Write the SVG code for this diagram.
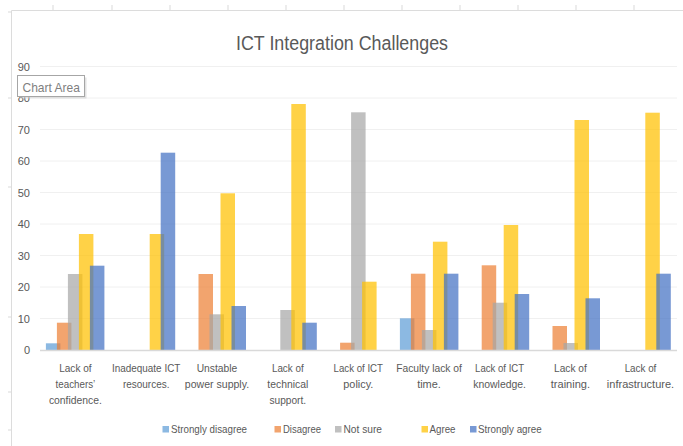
<svg xmlns="http://www.w3.org/2000/svg" width="683" height="446" viewBox="0 0 683 446">
<style>
text{font-family:"Liberation Sans",Arial,sans-serif;fill:#595959}
.yl{font-size:11px;text-anchor:end}
.cl{font-size:11px;text-anchor:middle}
.lg{font-size:11px}
.title{font-size:20px;text-anchor:middle}
.grid{stroke:#f0f0f0;stroke-width:1}
.sheet{stroke:#dcdcdc;stroke-width:1;fill:none}
.tick{stroke:#e6e6e6;stroke-width:1.5}
.sd{fill:#5B9BD5;fill-opacity:0.7}
.d{fill:#ED7D31;fill-opacity:0.7}
.ns{fill:#A5A5A5;fill-opacity:0.7}
.a{fill:#FFC000;fill-opacity:0.72}
.sa{fill:#4472C4;fill-opacity:0.72}
</style>
<rect width="683" height="446" fill="#ffffff"/>
<!-- sheet frame -->
<g id="sheet">
<path class="sheet" d="M11.5 10.5H683M11.5 10.5V446"/>
<path class="tick" d="M53 5V10M112 5V10M170 5V10M228 5V10M286 5V10M344 5V10M402 5V10M460 5V10M518 5V10M576 5V10M634 5V10"/>
<path class="tick" d="M8 12H11M8 98H11M8 187H11M8 317H11M8 392H11M8 430H11"/>
</g>
<text id="title" class="title" x="342" y="50" textLength="212" lengthAdjust="spacingAndGlyphs">ICT Integration Challenges</text>
<!-- gridlines -->
<g id="gridlines">
<path class="grid" d="M40 66.5H677M40 98H677M40 129.5H677M40 161H677M40 192.5H677M40 224H677M40 255.5H677M40 287H677M40 318.5H677"/>
</g>
<g id="y-axis">
<text class="yl" x="30" y="354">0</text>
<text class="yl" x="30" y="322.5">10</text>
<text class="yl" x="30" y="291">20</text>
<text class="yl" x="30" y="259.5">30</text>
<text class="yl" x="30" y="228">40</text>
<text class="yl" x="30" y="196.5">50</text>
<text class="yl" x="30" y="165">60</text>
<text class="yl" x="30" y="133.5">70</text>
<text class="yl" x="30" y="102">80</text>
<text class="yl" x="30" y="70.5">90</text>
</g>
<!-- bars -->
<g id="cat1">
<rect class="sd" x="45.9" y="343.3" width="14.5" height="6.7"/>
<rect class="d" x="56.9" y="322.7" width="14.5" height="27.3"/>
<rect class="ns" x="67.9" y="274" width="14.5" height="76"/>
<rect class="a" x="78.9" y="234" width="14.5" height="116"/>
<rect class="sa" x="89.9" y="265.7" width="14.5" height="84.3"/>
<text class="cl" x="75.4" y="372" textLength="32.4" lengthAdjust="spacingAndGlyphs">Lack of</text>
<text class="cl" x="75.4" y="388" textLength="39.7" lengthAdjust="spacingAndGlyphs">teachers’</text>
<text class="cl" x="75.4" y="404" textLength="53" lengthAdjust="spacingAndGlyphs">confidence.</text>
</g>
<g id="cat2">
<rect class="a" x="149.7" y="234" width="14.5" height="116"/>
<rect class="sa" x="160.7" y="152.7" width="14.5" height="197.3"/>
<text class="cl" x="146.2" y="372" textLength="68.3" lengthAdjust="spacingAndGlyphs">Inadequate ICT</text>
<text class="cl" x="146.2" y="388" textLength="46.6" lengthAdjust="spacingAndGlyphs">resources.</text>
</g>
<g id="cat3">
<rect class="d" x="198.5" y="274" width="14.5" height="76"/>
<rect class="ns" x="209.5" y="314.3" width="14.5" height="35.7"/>
<rect class="a" x="220.5" y="193.3" width="14.5" height="156.7"/>
<rect class="sa" x="231.5" y="306" width="14.5" height="44"/>
<text class="cl" x="217" y="372" textLength="40.6" lengthAdjust="spacingAndGlyphs">Unstable</text>
<text class="cl" x="217" y="388" textLength="64.3" lengthAdjust="spacingAndGlyphs">power supply.</text>
</g>
<g id="cat4">
<rect class="ns" x="280.3" y="310" width="14.5" height="40"/>
<rect class="a" x="291.3" y="104" width="14.5" height="246"/>
<rect class="sa" x="302.3" y="322.7" width="14.5" height="27.3"/>
<text class="cl" x="287.8" y="372" textLength="31.7" lengthAdjust="spacingAndGlyphs">Lack of</text>
<text class="cl" x="287.8" y="388" textLength="41" lengthAdjust="spacingAndGlyphs">technical</text>
<text class="cl" x="287.8" y="404" textLength="36.7" lengthAdjust="spacingAndGlyphs">support.</text>
</g>
<g id="cat5">
<rect class="d" x="340.1" y="342.7" width="14.5" height="7.3"/>
<rect class="ns" x="351.1" y="112.3" width="14.5" height="237.7"/>
<rect class="a" x="362.1" y="281.7" width="14.5" height="68.3"/>
<text class="cl" x="358.3" y="372" textLength="49.4" lengthAdjust="spacingAndGlyphs">Lack of ICT</text>
<text class="cl" x="358.3" y="388" textLength="30" lengthAdjust="spacingAndGlyphs">policy.</text>
</g>
<g id="cat6">
<rect class="sd" x="399.9" y="318.3" width="14.5" height="31.7"/>
<rect class="d" x="410.9" y="273.7" width="14.5" height="76.3"/>
<rect class="ns" x="421.9" y="330" width="14.5" height="20"/>
<rect class="a" x="432.9" y="241.7" width="14.5" height="108.3"/>
<rect class="sa" x="443.9" y="273.7" width="14.5" height="76.3"/>
<text class="cl" x="429" y="372" textLength="65.7" lengthAdjust="spacingAndGlyphs">Faculty lack of</text>
<text class="cl" x="429" y="388" textLength="23.7" lengthAdjust="spacingAndGlyphs">time.</text>
</g>
<g id="cat7">
<rect class="d" x="481.7" y="265.3" width="14.5" height="84.7"/>
<rect class="ns" x="492.7" y="302.7" width="14.5" height="47.3"/>
<rect class="a" x="503.7" y="225" width="14.5" height="125"/>
<rect class="sa" x="514.7" y="294" width="14.5" height="56"/>
<text class="cl" x="499.6" y="372" textLength="49" lengthAdjust="spacingAndGlyphs">Lack of ICT</text>
<text class="cl" x="499.6" y="388" textLength="52.7" lengthAdjust="spacingAndGlyphs">knowledge.</text>
</g>
<g id="cat8">
<rect class="d" x="552.5" y="326" width="14.5" height="24"/>
<rect class="ns" x="563.5" y="343" width="14.5" height="7"/>
<rect class="a" x="574.5" y="120" width="14.5" height="230"/>
<rect class="sa" x="585.5" y="298.3" width="14.5" height="51.7"/>
<text class="cl" x="570.4" y="372" textLength="32.7" lengthAdjust="spacingAndGlyphs">Lack of</text>
<text class="cl" x="570.4" y="388" textLength="39.3" lengthAdjust="spacingAndGlyphs">training.</text>
</g>
<g id="cat9">
<rect class="a" x="645.3" y="112.7" width="14.5" height="237.3"/>
<rect class="sa" x="656.3" y="273.7" width="14.5" height="76.3"/>
<text class="cl" x="640.5" y="372" textLength="31.7" lengthAdjust="spacingAndGlyphs">Lack of</text>
<text class="cl" x="640.5" y="388" textLength="67.3" lengthAdjust="spacingAndGlyphs">infrastructure.</text>
</g>
<g id="connectors">
<path d="M40 350.5H677" stroke="#d9d9d9" stroke-width="1.5"/>
</g>
<g id="legend">
<rect class="sd" x="162.5" y="426" width="6.5" height="6.5"/>
<text class="lg" x="171" y="432.5" textLength="76" lengthAdjust="spacingAndGlyphs">Strongly disagree</text>
<rect class="d" x="274.5" y="426" width="6.5" height="6.5"/>
<text class="lg" x="283" y="432.5" textLength="38" lengthAdjust="spacingAndGlyphs">Disagree</text>
<rect class="ns" x="335" y="426" width="6.5" height="6.5"/>
<text class="lg" x="343.5" y="432.5" textLength="38.5" lengthAdjust="spacingAndGlyphs">Not sure</text>
<rect class="a" x="421.5" y="426" width="6.5" height="6.5"/>
<text class="lg" x="429.5" y="432.5" textLength="26" lengthAdjust="spacingAndGlyphs">Agree</text>
<rect class="sa" x="470" y="426" width="6.5" height="6.5"/>
<text class="lg" x="478" y="432.5" textLength="63.7" lengthAdjust="spacingAndGlyphs">Strongly agree</text>
</g>
<g id="tooltip">
<rect x="19.5" y="77.5" width="67" height="21" fill="#cfcfcf" opacity="0.6"/>
<rect x="17.5" y="75.5" width="67" height="21" fill="#ffffff" stroke="#a6a6a6" stroke-width="1"/>
<text x="22.5" y="91.5" style="font-size:13px;fill:#7f7f7f" textLength="57.5" lengthAdjust="spacingAndGlyphs">Chart Area</text>
</g>
</svg>
